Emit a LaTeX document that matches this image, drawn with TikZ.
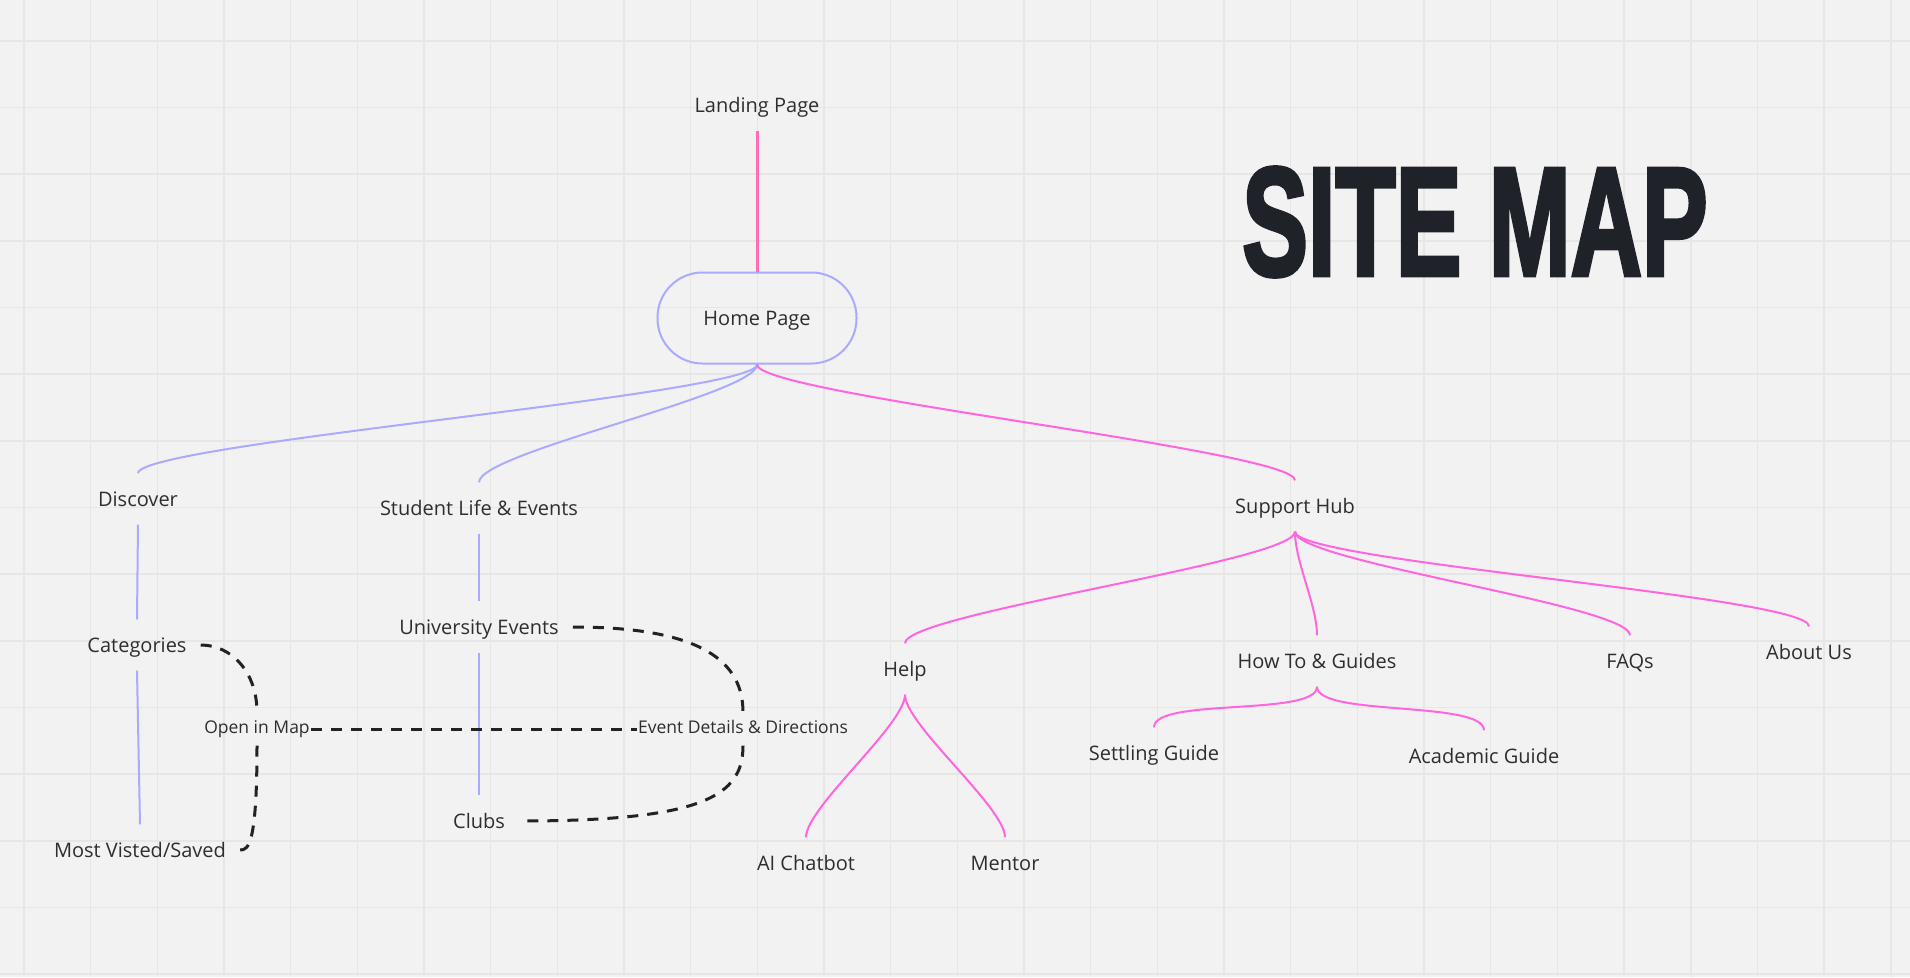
\documentclass[tikz,border=0pt]{standalone}
\usepackage{fontspec}
\setmainfont{Open Sans}
\newfontfamily\titlefont{Liberation Sans}[BoldFeatures={FakeBold=3}]
\usepackage{xcolor}
\usepackage{tikz}

\definecolor{paper}{HTML}{F2F2F2}
\definecolor{gridline}{HTML}{E6E6E6}
\definecolor{lavender}{HTML}{AAAAFF}
\definecolor{hotpink}{HTML}{FF6EB4}
\definecolor{orchid}{HTML}{FF66DD}
\definecolor{ink}{HTML}{2E2E2E}
\definecolor{dashink}{HTML}{222222}
\definecolor{titleink}{HTML}{1F2329}

\begin{document}
\begin{tikzpicture}[x=1pt,y=-1pt,
  drop/.style={to path={.. controls +(0,30) and +(0,-30) .. (\tikztotarget)}},
  lav/.style={lavender,line width=2pt},
  pinkc/.style={orchid,line width=2pt},
  link/.style={draw=dashink,line width=3pt,dash pattern=on 11pt off 9pt}]

\useasboundingbox (0,0) rectangle (1910,977);
\fill[paper] (0,0) rectangle (1910,977);
\foreach \i in {0,...,28}
  \draw[gridline,line width=1.6pt] ({24+66.667*\i},0) -- ({24+66.667*\i},977);
\foreach \j in {0,...,14}
  \draw[gridline,line width=1.6pt] (0,{40.7+66.667*\j}) -- (1910,{40.7+66.667*\j});

% title
\node[text=titleink,inner sep=0pt] (site map) at (1475,222)
  {\scalebox{0.64}[1]{\titlefont\bfseries\fontsize{154}{154}\selectfont SITE MAP}};

\begin{scope}[every node/.style={text=ink,font=\fontsize{20}{24}\selectfont,
  text height=17pt,text depth=3pt,inner xsep=14pt,inner ysep=15.5pt}]
\node (landing page) at (757,105) {Landing Page};
\node[draw=lavender,line width=2pt,rounded corners=45pt,minimum width=199pt,
  minimum height=91pt,inner sep=0pt] (home page) at (757,318) {Home Page};
\node (discover) at (138,499) {Discover};
\node (categories) at (137,645) {Categories};
\node (most visited) at (140,850) {Most Visted/Saved};
\node (student life) at (479,508) {Student Life \& Events};
\node (university events) at (479,627) {University Events};
\node (clubs) at (479,821) {Clubs};
\node (support hub) at (1295,506) {Support Hub};
\node (help) at (905,669) {Help};
\node (how to) at (1317,661) {How To \& Guides};
\node (faqs) at (1630,661) {FAQs};
\node (about us) at (1809,652) {About Us};
\node (settling guide) at (1154,753) {Settling Guide};
\node (academic guide) at (1484,756) {Academic Guide};
\node (ai chatbot) at (806,863) {AI Chatbot};
\node (mentor) at (1005,863) {Mentor};
\end{scope}

\begin{scope}[every node/.style={text=ink,font=\fontsize{17.5}{20}\selectfont,
  text height=13pt,text depth=4pt,inner xsep=1pt,inner ysep=8pt}]
\node (open in map) at (257,729) {Open in Map};
\node (event details) at (743,729) {Event Details \& Directions};
\end{scope}

\draw[hotpink,line width=3pt] (landing page.south) -- (home page.north);

\begin{scope}
\path [lav] (home page.south) edge[drop] (discover.north);
\path [lav] (home page.south) edge[drop] (student life.north);
\path [lav] (discover.south) edge (categories.north);
\path [lav] (categories.south) edge (most visited.north);
\path [lav] (student life.south) edge (university events.north);
\path [lav] (university events.south) edge (clubs.north);
\path [pinkc] (home page.south) edge[drop] (support hub.north);
\path [pinkc] (support hub.south) edge[drop] (help.north);
\path [pinkc] (support hub.south) edge[drop] (how to.north);
\path [pinkc] (support hub.south) edge[drop] (faqs.north);
\path [pinkc] (support hub.south) edge[drop] (about us.north);
\path [pinkc] (how to.south) edge[drop] (settling guide.north);
\path [pinkc] (how to.south) edge[drop] (academic guide.north);
\path [pinkc] (help.south) edge[drop] (ai chatbot.north);
\path [pinkc] (help.south) edge[drop] (mentor.north);
\end{scope}

\begin{scope}
\draw[link] (categories.east) .. controls +(31,0) and +(0,-40) .. (open in map.north);
\draw[link] (open in map.south) .. controls +(0,100) and +(8,0) .. (most visited.east);
\draw[link] (open in map.east) -- (event details.west);
\draw[link] (university events.east) .. controls +(130,0) and +(0,-50) .. (event details.north);
\draw[link] (event details.south) .. controls +(0,50) and +(185,0) .. (clubs.east);
\end{scope}

\end{tikzpicture}
\end{document}
